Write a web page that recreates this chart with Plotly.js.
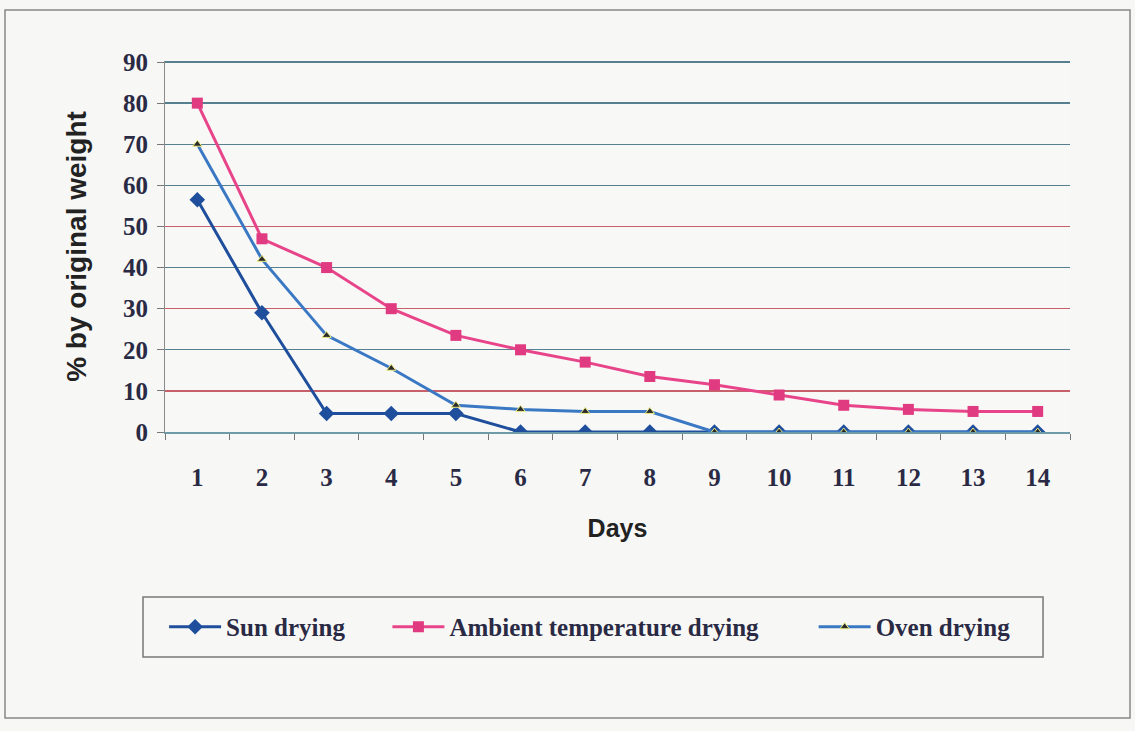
<!DOCTYPE html>
<html>
<head>
<meta charset="utf-8">
<script src="https://cdn.plot.ly/plotly-3.0.1.min.js"></script>
<style>
  html, body { margin: 0; padding: 0; background: #f7f8f6; }
  #chart { width: 1135px; height: 731px; }
</style>
</head>
<body>
<div id="chart"></div>
<script>
const days = ['1','2','3','4','5','6','7','8','9','10','11','12','13','14'];
const sunDrying = [56.5, 29, 4.5, 4.5, 4.5, 0, 0, 0, 0, 0, 0, 0, 0, 0];
const ambientDrying = [80, 47, 40, 30, 23.5, 20, 17, 13.5, 11.5, 9, 6.5, 5.5, 5, 5];
const ovenDrying = [70, 42, 23.5, 15.5, 6.5, 5.5, 5, 5, 0, 0, 0, 0, 0, 0];
const seriesNames = ['Sun drying', 'Ambient temperature drying', 'Oven drying'];
const blueGridTicks = [0, 20, 40, 60, 70, 80, 90];
const redGridTicks = [10, 30, 50];
const yTickVals = [0, 10, 20, 30, 40, 50, 60, 70, 80, 90];
const yTickLabels = ['0', '10', '20', '30', '40', '50', '60', '70', '80', '90'];

const pad = n => '\u00a0'.repeat(n);
const yRange = [0, 90.25];

const traces = [
  {x: days, y: sunDrying, yaxis: 'y2', type: 'scatter', mode: 'none', showlegend: false, hoverinfo: 'skip'},
  {x: days, y: sunDrying, yaxis: 'y3', type: 'scatter', mode: 'none', showlegend: false, hoverinfo: 'skip'},
  {
    x: days, y: sunDrying, name: seriesNames[0] + pad(6), type: 'scatter', mode: 'lines+markers',
    line: {color: '#1f4f9c', width: 3},
    marker: {symbol: 'diamond', size: 12, color: '#1f4f9c'}
  },
  {
    x: days, y: ambientDrying, name: seriesNames[1] + pad(8), type: 'scatter', mode: 'lines+markers',
    line: {color: '#e8448a', width: 3},
    marker: {symbol: 'square', size: 11, color: '#e03a80'}
  },
  {
    x: days, y: ovenDrying, name: seriesNames[2], type: 'scatter', mode: 'lines+markers',
    line: {color: '#3b78c4', width: 3},
    marker: {symbol: 'triangle-up', size: 8, color: '#2b2b2b', line: {color: '#eeee80', width: 1}}
  }
];

const serifBold = {family: 'Liberation Serif, Times New Roman, serif', size: 25, color: '#2a2a45', weight: 'bold'};
const sansBold = {family: 'Liberation Sans, Arial, sans-serif', color: '#222', weight: 'bold'};

const layout = {
  width: 1135, height: 731,
  paper_bgcolor: '#f7f8f6',
  plot_bgcolor: '#f8f9f7',
  margin: {l: 165, r: 65, t: 61, b: 299},
  showlegend: true,
  xaxis: {
    type: 'category',
    range: [-0.5, 13.5],
    tickson: 'boundaries',
    ticks: 'outside', ticklen: 6, tickcolor: '#777',
    ticklabelstandoff: 22,
    showgrid: false,
    showline: true, linecolor: '#6f9aa8', linewidth: 1.5,
    zeroline: false,
    tickfont: serifBold,
    title: {text: 'Days', standoff: 30, font: Object.assign({size: 25}, sansBold)}
  },
  yaxis: {
    range: yRange,
    tickmode: 'array', tickvals: yTickVals, ticktext: yTickLabels,
    ticks: 'outside', ticklen: 7, tickcolor: '#777',
    showgrid: false,
    showline: true, linecolor: '#8a8a8a', linewidth: 1,
    zeroline: false,
    ticklabelstandoff: 4,
    tickfont: serifBold,
    title: {text: '% by original weight', standoff: 28, font: Object.assign({size: 28}, sansBold)}
  },
  yaxis2: {
    overlaying: 'y', range: yRange,
    tickmode: 'array', tickvals: blueGridTicks, showticklabels: false, ticks: '',
    showgrid: true, gridcolor: '#56808f', gridwidth: 1.3,
    zeroline: false, showline: false, layer: 'below traces'
  },
  yaxis3: {
    overlaying: 'y', range: yRange,
    tickmode: 'array', tickvals: redGridTicks, showticklabels: false, ticks: '',
    showgrid: true, gridcolor: '#c8606c', gridwidth: 1.3,
    zeroline: false, showline: false, layer: 'below traces'
  },
  legend: {
    orientation: 'h',
    x: -0.001, y: -0.5256, xanchor: 'left', yanchor: 'middle',
    bgcolor: 'rgba(0,0,0,0)',
    borderwidth: 0,
    itemwidth: 52,
    font: serifBold
  },
  shapes: [
    {type: 'rect', xref: 'paper', yref: 'paper', x0: -0.1768, x1: 1.0663, y0: -0.7709, y1: 1.1375,
     line: {color: '#888', width: 1.5}, fillcolor: 'rgba(0,0,0,0)', layer: 'below'},
    {type: 'rect', xref: 'paper', yref: 'paper', x0: -0.0243, x1: 0.9702, y0: -0.6065, y1: -0.4447,
     line: {color: '#777', width: 1.5}, fillcolor: 'rgba(0,0,0,0)', layer: 'below'}
  ]
};

Plotly.newPlot('chart', traces, layout, {displayModeBar: false, staticPlot: true});
</script>
</body>
</html>
